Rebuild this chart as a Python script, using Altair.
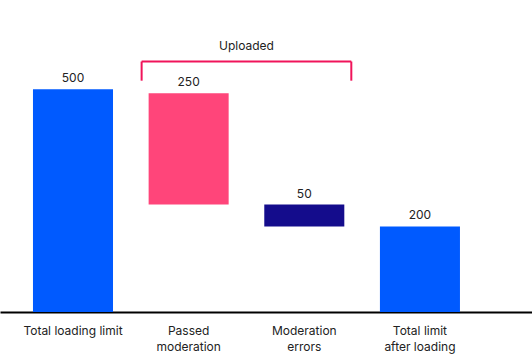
import altair as alt
import pandas as pd

# ---- data ----
categories = ["Total loading limit", "Passed\nmoderation", "Moderation\nerrors", "Total limit\nafter loading"]
bar_top = [500, 491, 241, 192]
bar_bottom = [0, 241, 192, 0]
value_labels = ["500", "250", "50", "200"]
bar_colors = ["#005AFF", "#FF457A", "#140C8C", "#005AFF"]

bracket_from = "Passed\nmoderation"
bracket_to = "Moderation\nerrors"
bracket_label = "Uploaded"
bracket_top = 562
bracket_bottom = 519
bracket_label_level = 596

FONT = "Inter"
TEXT = "#222222"
BRACKET = "#F0145A"

df = pd.DataFrame({
    "category": categories,
    "top": bar_top,
    "bottom": bar_bottom,
    "label": value_labels,
})

xscale = alt.Scale(domain=categories, paddingInner=0.308, paddingOuter=0.454, align=0.314)
yscale = alt.Scale(domain=[0, 700], nice=False, zero=True)

x = alt.X(
    "category:N",
    sort=categories,
    scale=xscale,
    axis=alt.Axis(
        title=None,
        ticks=False,
        domain=True,
        domainColor="#000000",
        domainWidth=2,
        labelAngle=0,
        labelFont=FONT,
        labelFontSize=12,
        labelColor=TEXT,
        labelPadding=13,
        labelLineHeight=16,
        labelLimit=0,
        labelOverlap=False,
        labelExpr="split(datum.label, '\\n')",
    ),
)

base = alt.Chart(df)

bars = base.mark_bar().encode(
    x=x,
    y=alt.Y("top:Q", scale=yscale, axis=None),
    y2="bottom:Q",
    color=alt.Color("category:N", scale=alt.Scale(domain=categories, range=bar_colors), legend=None),
)

values = base.mark_text(dy=-11, font=FONT, fontSize=12, color=TEXT, baseline="middle").encode(
    x=alt.X("category:N", sort=categories),
    y=alt.Y("top:Q"),
    text="label:N",
)

bdf = pd.DataFrame({"a": [0]})
bchart = alt.Chart(bdf)

hrule = bchart.mark_rule(color=BRACKET, strokeWidth=2, xOffset=-7, x2Offset=7).encode(
    x=alt.X(datum=bracket_from, bandPosition=0),
    x2=alt.X2(datum=bracket_to, bandPosition=1),
    y=alt.Y(datum=bracket_top),
)
lrule = bchart.mark_rule(color=BRACKET, strokeWidth=2, xOffset=-7).encode(
    x=alt.X(datum=bracket_from, bandPosition=0),
    y=alt.Y(datum=bracket_top),
    y2=alt.Y2(datum=bracket_bottom),
)
rrule = bchart.mark_rule(color=BRACKET, strokeWidth=2, xOffset=7).encode(
    x=alt.X(datum=bracket_to, bandPosition=1),
    y=alt.Y(datum=bracket_top),
    y2=alt.Y2(datum=bracket_bottom),
)
btext = bchart.mark_text(font=FONT, fontSize=12, color=TEXT, baseline="middle", dx=17.8).encode(
    x=alt.X(datum=bracket_from, bandPosition=1),
    y=alt.Y(datum=bracket_label_level),
    text=alt.value(bracket_label),
)

chart = (
    alt.layer(bars, values, hrule, lrule, rrule, btext)
    .properties(
        width=532,
        height=312,
        padding={"left": 0, "right": 0, "top": 0, "bottom": 44},
        autosize=alt.AutoSizeParams(type="none"),
        background="#FFFFFF",
    )
    .configure_view(stroke=None)
)

chart.save("out.html", embed_options={"renderer": "svg", "actions": False})
